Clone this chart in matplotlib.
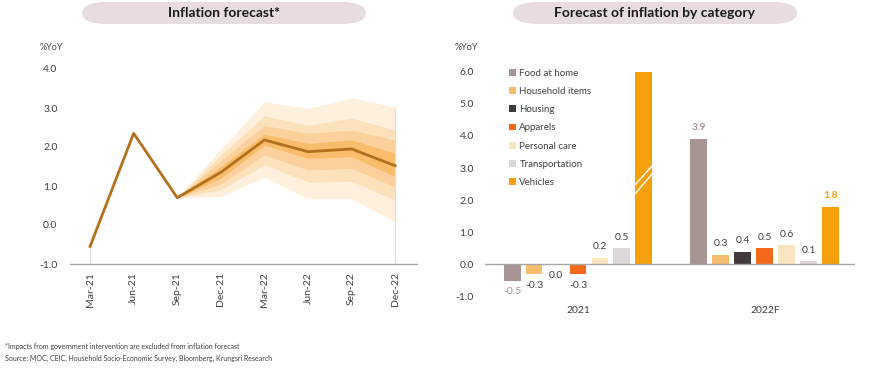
import matplotlib.pyplot as plt
import numpy as np
from matplotlib.patches import FancyBboxPatch

plt.rcParams['font.family'] = ['Lato', 'DejaVu Sans']

# ---- Data: inflation forecast (left) ----
months = ['Mar-21', 'Jun-21', 'Sep-21', 'Dec-21', 'Mar-22', 'Jun-22', 'Sep-22', 'Dec-22']
cpi = [-0.55, 2.35, 0.70, 1.35, 2.18, 1.88, 1.95, 1.52]

# fan bands from Sep-21 onward (inner -> outer)
fan_upper = [
    [0.70, 1.50, 2.33, 2.09, 2.18, 1.84],
    [0.70, 1.65, 2.55, 2.35, 2.43, 2.18],
    [0.70, 1.80, 2.80, 2.56, 2.74, 2.44],
    [0.70, 1.95, 3.16, 2.99, 3.26, 3.02],
]
fan_lower = [
    [0.70, 1.20, 2.05, 1.71, 1.75, 1.24],
    [0.70, 1.05, 1.80, 1.41, 1.45, 0.97],
    [0.70, 0.90, 1.55, 1.10, 1.12, 0.64],
    [0.70, 0.73, 1.23, 0.67, 0.67, 0.08],
]

# ---- Data: inflation by category (right) ----
groups = ['2021', '2022F']
categories = ['Food at home', 'Household items', 'Housing', 'Apparels',
              'Personal care', 'Transportation', 'Vehicles']
val_2021 = [-0.5, -0.3, 0.0, -0.3, 0.2, 0.5, 6.0]   # vehicles bar is cut at 6.0
val_2022 = [3.9, 0.3, 0.4, 0.5, 0.6, 0.1, 1.8]

cat_colors = ['#a69592', '#f6bd6c', '#403a3a', '#f2691a', '#fbe4c0', '#ddd8d8', '#f7a00d']
fan_colors = ['#f9bc6a', '#fbd09a', '#fde1bb', '#fef0dc']
line_color = '#b3701c'
text_color = '#404040'
axis_color = '#a6a6a6'

fig = plt.figure(figsize=(8.7, 3.68), dpi=100)
W, H = 870, 368


def pill(x0, x1, y0, y1, label):
    box = FancyBboxPatch((x0 / W, 1 - y1 / H), (x1 - x0) / W, (y1 - y0) / H,
                         boxstyle="round,pad=0,rounding_size=0.03",
                         transform=fig.transFigure, facecolor='#e7dddd',
                         edgecolor='none')
    fig.patches.append(box)
    fig.text((x0 + x1) / 2 / W, 1 - (y0 + y1) / 2 / H, label, ha='center', va='center',
             fontsize=10, fontweight='bold', color='#1a1a1a')


pill(82, 366, 2, 24, 'Inflation forecast*')
pill(513, 797, 2, 24, 'Forecast of inflation by category')

# ---- Left chart ----
axL = fig.add_axes([70 / W, 1 - 264 / H, 347 / W, 5.3 * 39 / H])
x = np.arange(len(months))
xf = x[2:]
for up, lo, c in reversed(list(zip(fan_upper, fan_lower, fan_colors))):
    axL.fill_between(xf, lo, up, color=c, linewidth=0)
axL.vlines([x[0]], -1, cpi[0], color='#dddddd', linewidth=0.8)
axL.vlines([x[-1]], -1, fan_upper[-1][-1], color='#dddddd', linewidth=0.8)
axL.plot(x, cpi, color=line_color, linewidth=2)

axL.set_xlim(-0.46, 7.5)
axL.set_ylim(-1, 4.3)
axL.set_yticks([-1, 0, 1, 2, 3, 4])
axL.set_yticklabels(['-1.0', '0.0', '1.0', '2.0', '3.0', '4.0'])
axL.set_xticks(x)
axL.set_xticklabels(months, rotation=90)
axL.tick_params(axis='y', length=0, pad=9, labelsize=7.5, labelcolor=text_color)
axL.tick_params(axis='x', length=0, pad=6, labelsize=7.5, labelcolor=text_color)
for s in ['top', 'right', 'left']:
    axL.spines[s].set_visible(False)
axL.spines['bottom'].set_color(axis_color)
axL.spines['bottom'].set_linewidth(1)
fig.text(40 / W, 1 - 48 / H, '%YoY', fontsize=6.5, color=text_color, va='center')

# ---- Right chart ----
axR = fig.add_axes([485 / W, 1 - 303 / H, 370 / W, 7.6 * 32.14 / H])
gap = 8.5
width = 0.77
pos21 = np.arange(len(categories))
pos22 = pos21 + gap
bars = []
for i, cat in enumerate(categories):
    b = axR.bar([pos21[i], pos22[i]], [val_2021[i], val_2022[i]], width=width,
                color=cat_colors[i], label=cat, edgecolor='none')
    bars.append(b)

# break marks on the truncated vehicles bar
vx = pos21[-1]
for y_lo, y_hi in [(2.49, 3.08), (2.21, 2.83)]:
    axR.plot([vx - width / 2, vx + width / 2], [y_lo, y_hi], color='white', linewidth=1)

axR.axhline(0, color=axis_color, linewidth=1)

label_colors_21 = ['#a69592'] + [text_color] * 6
label_colors_22 = ['#a69592'] + [text_color] * 5 + ['#f7a00d']
for i in range(len(categories) - 1):
    v = val_2021[i]
    off = 8 if v > 0 else -8
    axR.annotate(f'{v:.1f}', (pos21[i], v), xytext=(0, off), textcoords='offset points',
                 ha='center', va='center', fontsize=7.5, color=label_colors_21[i])
for i in range(len(categories)):
    v = val_2022[i]
    bold = 'bold' if i in (0, 6) else 'normal'
    axR.annotate(f'{v:.1f}', (pos22[i], v), xytext=(0, 8), textcoords='offset points',
                 ha='center', va='center', fontsize=7.5, color=label_colors_22[i],
                 fontweight=bold)

axR.set_xlim(-1.23, 15.6)
axR.set_ylim(-1.2, 6.4)
axR.set_yticks([-1, 0, 1, 2, 3, 4, 5, 6])
axR.set_yticklabels(['-1.0', '0.0', '1.0', '2.0', '3.0', '4.0', '5.0', '6.0'])
axR.set_xticks([pos21.mean(), pos22.mean()])
axR.set_xticklabels(groups)
axR.tick_params(axis='y', length=0, pad=8, labelsize=7.5, labelcolor=text_color)
axR.tick_params(axis='x', length=0, pad=2, labelsize=7.5, labelcolor=text_color)
for s in axR.spines.values():
    s.set_visible(False)
fig.text(455 / W, 1 - 48 / H, '%YoY', fontsize=6.5, color=text_color, va='center')

axR.legend(handles=bars, loc='upper left', bbox_to_anchor=(500 / W, 1 - 60 / H),
           bbox_transform=fig.transFigure, frameon=False, fontsize=7,
           handlelength=0.7, handleheight=0.7, handletextpad=0.4,
           labelspacing=0.95, labelcolor=text_color)

# ---- Footnotes ----
fig.text(5 / W, 1 - 346 / H, '*Impacts from government intervention are excluded from inflation forecast',
         fontsize=5, color=text_color, va='center')
fig.text(5 / W, 1 - 358 / H, 'Source: MOC, CEIC, Household Socio-Economic Survey, Bloomberg, Krungsri Research',
         fontsize=5, color=text_color, va='center')

fig.savefig('out.png', dpi=100)
